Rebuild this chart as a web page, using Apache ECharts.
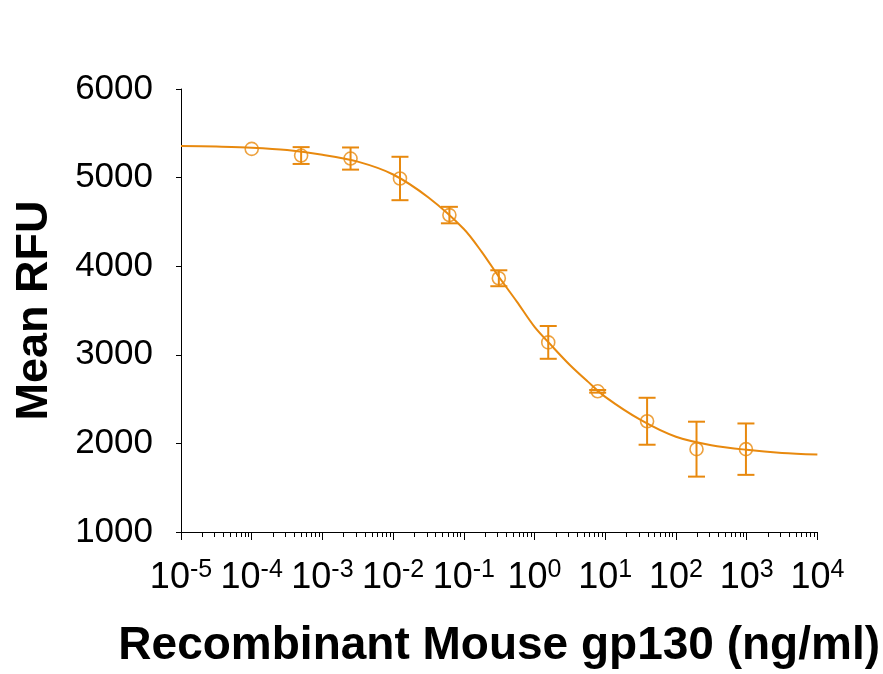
<!DOCTYPE html>
<html>
<head>
<meta charset="utf-8">
<script src="https://cdn.jsdelivr.net/npm/echarts@6/dist/echarts.min.js"></script>
<style>
html, body { margin: 0; padding: 0; background: #fff; }
#chart { width: 883px; height: 674px; }
</style>
</head>
<body>
<div id="chart"></div>
<script>
// measured points (ng/ml, mean RFU, error)
const doses = [0.0001, 0.0005, 0.0025, 0.0125, 0.0625, 0.3125, 1.5625, 7.8125, 39.0625, 195.3125, 976.5625];
const meanRfu = [5324, 5249, 5215, 4990, 4577, 3864, 3140, 2588, 2250, 1935, 1935];
const sdRfu = [0, 95, 125, 245, 93, 90, 185, 15, 265, 310, 290];

// fitted curve
const fitDoses = [1e-5, 3.16e-5, 1e-4, 3.16e-4, 1e-3, 3.16e-3, 1e-2, 3.16e-2, 1e-1, 1.78e-1, 3.16e-1, 5.62e-1,
  1, 1.78, 3.16, 5.62, 10, 31.6, 100, 316, 1000, 3160, 10000];
const fitRfu = [5358, 5350, 5338, 5312, 5258, 5180, 5035, 4775, 4420, 4165, 3875, 3600,
  3315, 3095, 2885, 2700, 2525, 2265, 2075, 1980, 1928, 1893, 1875];

// minor ticks 2..9 in each decade
const minorTicks = [];
for (let d = -5; d < 4; d++) {
  for (let k = 2; k <= 9; k++) minorTicks.push(k * Math.pow(10, d));
}

const orange = '#E8890E';
const font = "'Liberation Sans', Arial, sans-serif";

const chart = echarts.init(document.getElementById('chart'));

chart.setOption({
  animation: false,
  backgroundColor: '#fff',
  grid: { left: 181, right: 65, top: 89, bottom: 141 },
  xAxis: [{
    type: 'log',
    logBase: 10,
    min: 1e-5,
    max: 1e4,
    name: 'Recombinant Mouse gp130 (ng/ml)',
    nameLocation: 'middle',
    nameGap: 91,
    nameTextStyle: { fontFamily: font, fontSize: 46, fontWeight: 'bold', color: '#000' },
    axisLine: { lineStyle: { color: '#000', width: 1 } },
    axisTick: { length: 8, lineStyle: { color: '#000' } },
    splitLine: { show: false },
    axisLabel: {
      interval: 0,
      hideOverlap: false,
      margin: 26,
      formatter: function (v) {
        const e = Math.round(Math.log10(v));
        return '{b|10}{s|' + e + '}';
      },
      rich: {
        b: { fontFamily: font, fontSize: 36, lineHeight: 40, color: '#000' },
        s: { fontFamily: font, fontSize: 25, lineHeight: 25, color: '#000', verticalAlign: 'top' }
      }
    }
  }, {
    type: 'log',
    logBase: 10,
    min: 1e-5,
    max: 1e4,
    position: 'bottom',
    axisLine: { show: false },
    axisLabel: { show: false },
    splitLine: { show: false },
    axisTick: { show: true, length: 5, customValues: minorTicks, lineStyle: { color: '#000' } }
  }],
  yAxis: {
    type: 'value',
    min: 1000,
    max: 6000,
    interval: 1000,
    name: 'Mean RFU',
    nameLocation: 'middle',
    nameGap: 124,
    nameTextStyle: { fontFamily: font, fontSize: 45, fontWeight: 'bold', color: '#000' },
    axisLine: { show: true, lineStyle: { color: '#000', width: 1 } },
    axisTick: { show: true, length: 5, lineStyle: { color: '#000' } },
    splitLine: { show: false },
    axisLabel: { fontFamily: font, fontSize: 35, color: '#000', margin: 28, formatter: v => String(v) }
  },
  series: [{
    type: 'line',
    data: fitDoses.map((d, i) => [d, fitRfu[i]]),
    smooth: 0.3,
    symbol: 'none',
    lineStyle: { color: orange, width: 2 }
  }, {
    type: 'custom',
    data: doses.map((d, i) => [d, meanRfu[i], sdRfu[i]]),
    encode: { x: 0, y: 1 },
    renderItem: function (params, api) {
      const x = api.value(0), m = api.value(1), sd = api.value(2);
      if (!sd) return null;
      const top = api.coord([x, m + sd]);
      const bot = api.coord([x, m - sd]);
      const w = 8.5;
      const style = { stroke: orange, lineWidth: 2 };
      return {
        type: 'group',
        children: [
          { type: 'line', shape: { x1: top[0], y1: top[1], x2: bot[0], y2: bot[1] }, style: style },
          { type: 'line', shape: { x1: top[0] - w, y1: top[1], x2: top[0] + w, y2: top[1] }, style: style },
          { type: 'line', shape: { x1: bot[0] - w, y1: bot[1], x2: bot[0] + w, y2: bot[1] }, style: style }
        ]
      };
    }
  }, {
    type: 'scatter',
    data: doses.map((d, i) => [d, meanRfu[i]]),
    symbol: 'circle',
    symbolSize: 13,
    itemStyle: { color: 'rgba(0,0,0,0)', borderColor: orange, borderWidth: 1.6 }
  }]
});
</script>
</body>
</html>
